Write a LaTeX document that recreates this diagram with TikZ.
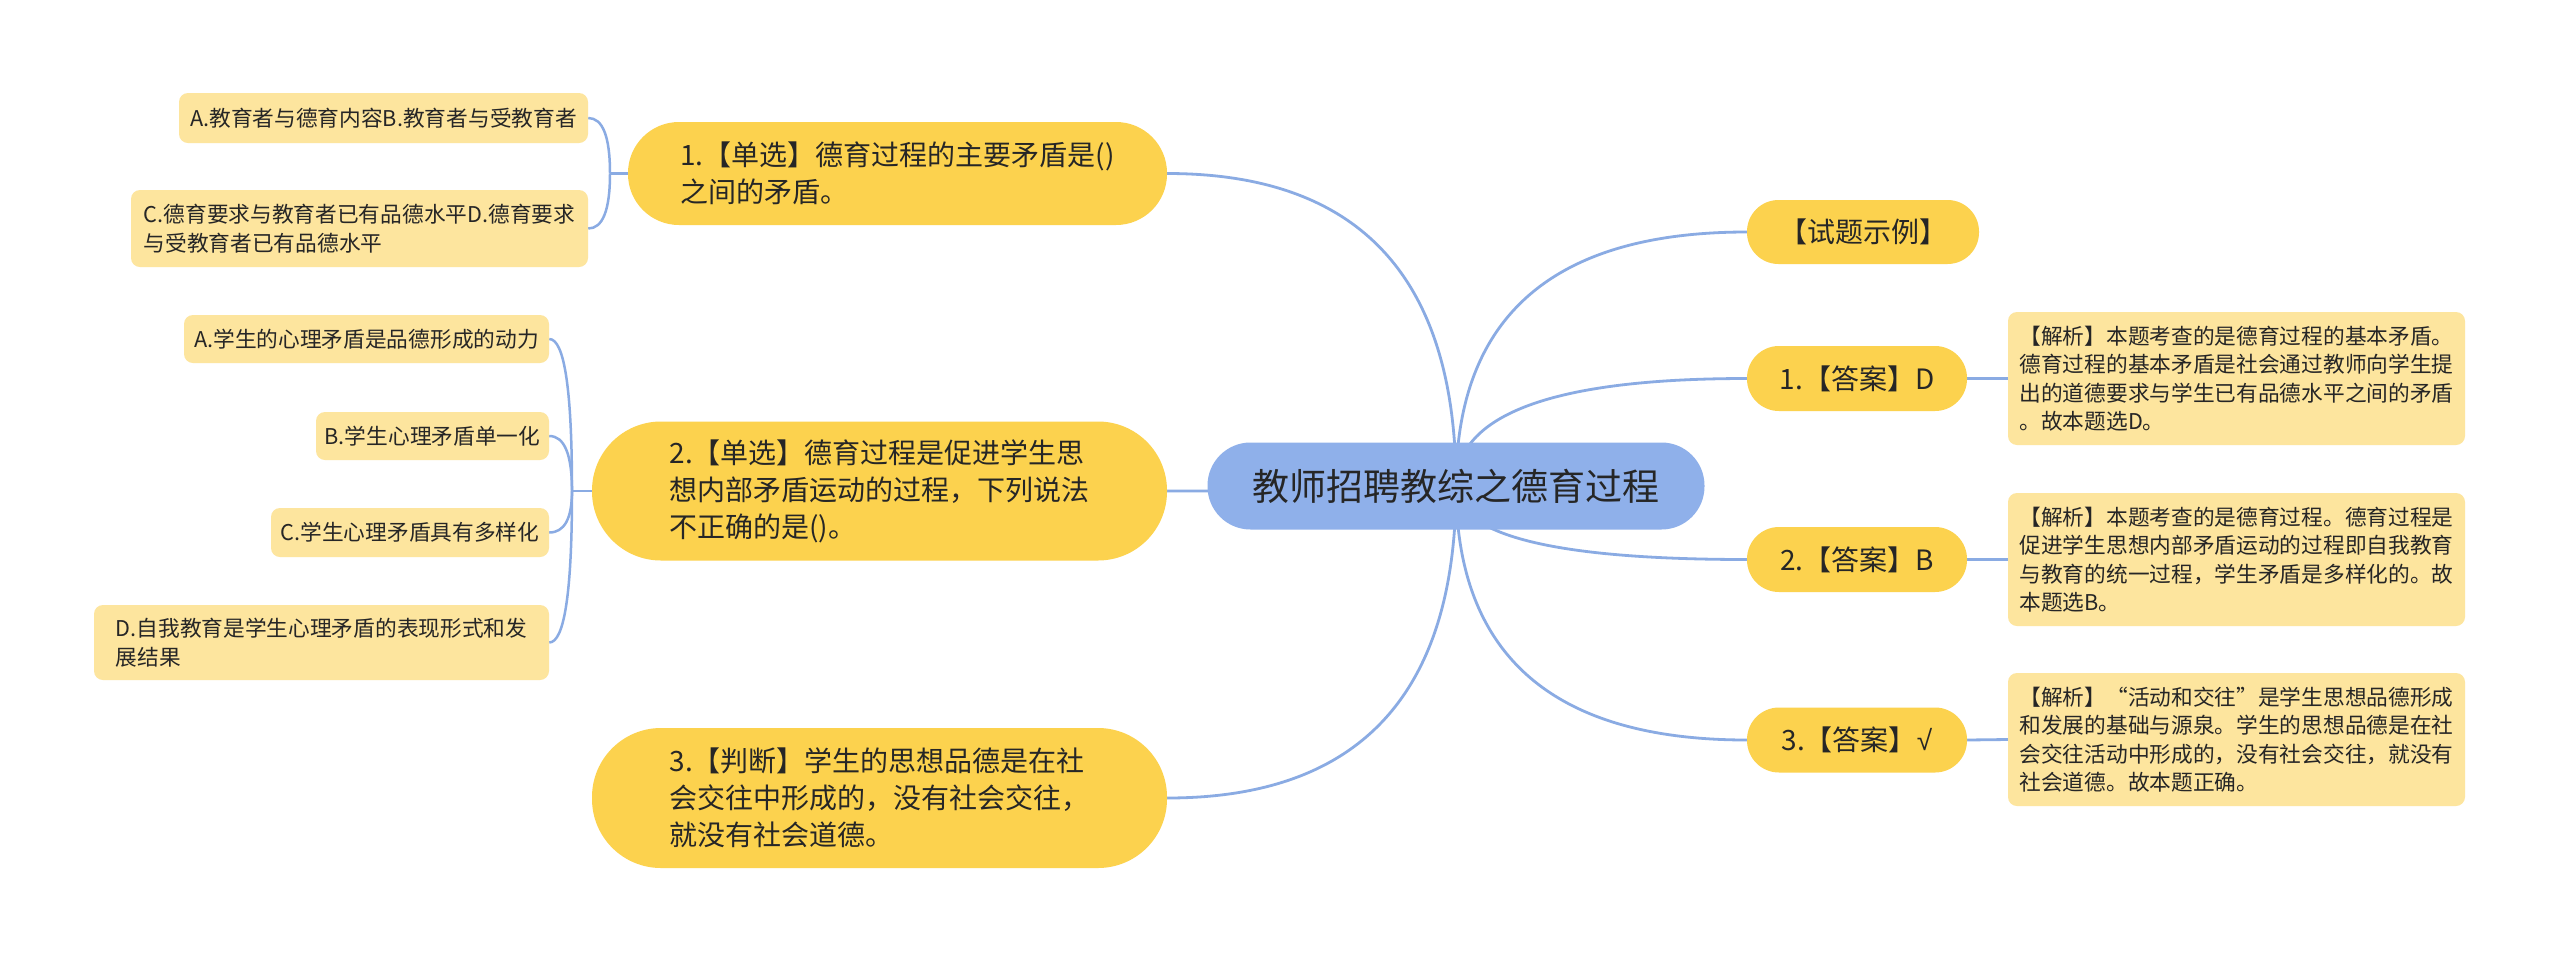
\documentclass[tikz,border=0pt]{standalone}
\usepackage{fontspec}
\newfontfamily\cjk{Noto Sans CJK SC}
\newfontfamily\symf{Liberation Sans}
\usetikzlibrary{calc,backgrounds}
\definecolor{qyellow}{HTML}{FCD24E}
\definecolor{oyellow}{HTML}{FDE59E}
\definecolor{rootblue}{HTML}{8FB0EA}
\definecolor{linkblue}{HTML}{8AABE3}
\definecolor{txt}{HTML}{262626}
\newcommand{\mmlink}[2]{%
  \coordinate (mmk) at (#1|-#2);
  \draw[link] (#1) .. controls ($(#1)!0.6667!(mmk)$) and ($(#2)!0.6667!(mmk)$) .. (#2);}
\tikzset{
  x=1pt, y=-1pt,
  link/.style={draw=linkblue, line width=2.8pt},
  blink/.style={draw=linkblue, line width=2.5pt},
  rootbox/.style={fill=rootblue, inner sep=0pt, align=center, text=txt,
    font=\cjk\fontsize{37}{44}\selectfont},
  pill/.style={fill=qyellow, inner sep=0pt, align=left, text=txt,
    font=\cjk\fontsize{28}{37}\selectfont},
  optbox/.style={fill=oyellow, inner sep=0pt, align=left, text=txt,
    rounded corners=9pt, font=\cjk\fontsize{21.7}{28.5}\selectfont},
}
\begin{document}
\begin{tikzpicture}
\useasboundingbox (0,0) rectangle (2560,962);
% root
\node[rootbox, minimum width=497pt, minimum height=87pt, rounded corners=43pt] (root) at (1456,486) {教师招聘教综之德育过程};
% left questions
\node[pill, minimum width=539pt, minimum height=103pt, rounded corners=51pt] (q1) at (897.5,173.5) {1.【单选】德育过程的主要矛盾是()\\之间的矛盾。};
\node[pill, minimum width=575pt, minimum height=139pt, rounded corners=69pt] (q2) at (879.5,491) {2.【单选】德育过程是促进学生思\\想内部矛盾运动的过程，下列说法\\不正确的是()。};
\node[pill, minimum width=575pt, minimum height=140pt, rounded corners=69pt] (q3) at (879.5,798) {3.【判断】学生的思想品德是在社\\会交往中形成的，没有社会交往，\\就没有社会道德。};
% options of q1
\node[optbox, minimum width=409pt, minimum height=50pt] (q1a) at (383.5,118) {A.教育者与德育内容B.教育者与受教育者};
\node[optbox, minimum width=457pt, minimum height=77pt] (q1c) at (359.5,228.5) {C.德育要求与教育者已有品德水平D.德育要求\\与受教育者已有品德水平};
% options of q2
\node[optbox, minimum width=365pt, minimum height=48pt] (q2a) at (366.5,339) {A.学生的心理矛盾是品德形成的动力};
\node[optbox, minimum width=233pt, minimum height=48pt] (q2b) at (432.5,436) {B.学生心理矛盾单一化};
\node[optbox, minimum width=278pt, minimum height=49pt] (q2c) at (410,532.5) {C.学生心理矛盾具有多样化};
\node[optbox, minimum width=455pt, minimum height=75pt] (q2d) at (321.5,642.5) {D.自我教育是学生心理矛盾的表现形式和发\\展结果};
% right side
\node[pill, minimum width=232pt, minimum height=64pt, rounded corners=31.5pt] (t0) at (1863,232) {【试题示例】};
\node[pill, minimum width=220pt, minimum height=65pt, rounded corners=32pt] (t1) at (1857,378.5) {1.【答案】D};
\node[pill, minimum width=220pt, minimum height=65pt, rounded corners=32pt] (t2) at (1857,559.5) {2.【答案】B};
\node[pill, minimum width=220pt, minimum height=65pt, rounded corners=32pt] (t3) at (1857,740) {3.【答案】{\symf √}};
\node[optbox, minimum width=457pt, minimum height=133pt] (a1) at (2236.5,378.5) {【解析】本题考查的是德育过程的基本矛盾。\\德育过程的基本矛盾是社会通过教师向学生提\\出的道德要求与学生已有品德水平之间的矛盾\\。故本题选D。};
\node[optbox, minimum width=457pt, minimum height=133pt] (a2) at (2236.5,559.5) {【解析】本题考查的是德育过程。德育过程是\\促进学生思想内部矛盾运动的过程即自我教育\\与教育的统一过程，学生矛盾是多样化的。故\\本题选B。};
\node[optbox, minimum width=457pt, minimum height=133pt] (a3) at (2236.5,739.5) {【解析】“活动和交往”是学生思想品德形成\\和发展的基础与源泉。学生的思想品德是在社\\会交往活动中形成的，没有社会交往，就没有\\社会道德。故本题正确。};
\coordinate (q1br) at (610,173.5);
\coordinate (q2br) at (572,491);
\begin{scope}[on background layer]
  \fill[white] (0,0) rectangle (2560,962);
  \mmlink{root.center}{q1.east}
  \mmlink{root.center}{q2.east}
  \mmlink{root.center}{q3.east}
  \mmlink{root.center}{t0.west}
  \mmlink{root.center}{t1.west}
  \mmlink{root.center}{t2.west}
  \mmlink{root.center}{t3.west}
  \draw[link] (t1.east) -- (a1.west);
  \draw[link] (t2.east) -- (a2.west);
  \draw[link] (t3.east) -- (a3.west);
  \draw[blink] (q1.west) -- (q1br);
  \draw[blink] (q2.west) -- (q2br);
  \begin{scope}[link/.style={blink}]
    \mmlink{q1br}{q1a.east}
    \mmlink{q1br}{q1c.east}
    \mmlink{q2br}{q2a.east}
    \mmlink{q2br}{q2b.east}
    \mmlink{q2br}{q2c.east}
    \mmlink{q2br}{q2d.east}
  \end{scope}
\end{scope}
\end{tikzpicture}
\end{document}
